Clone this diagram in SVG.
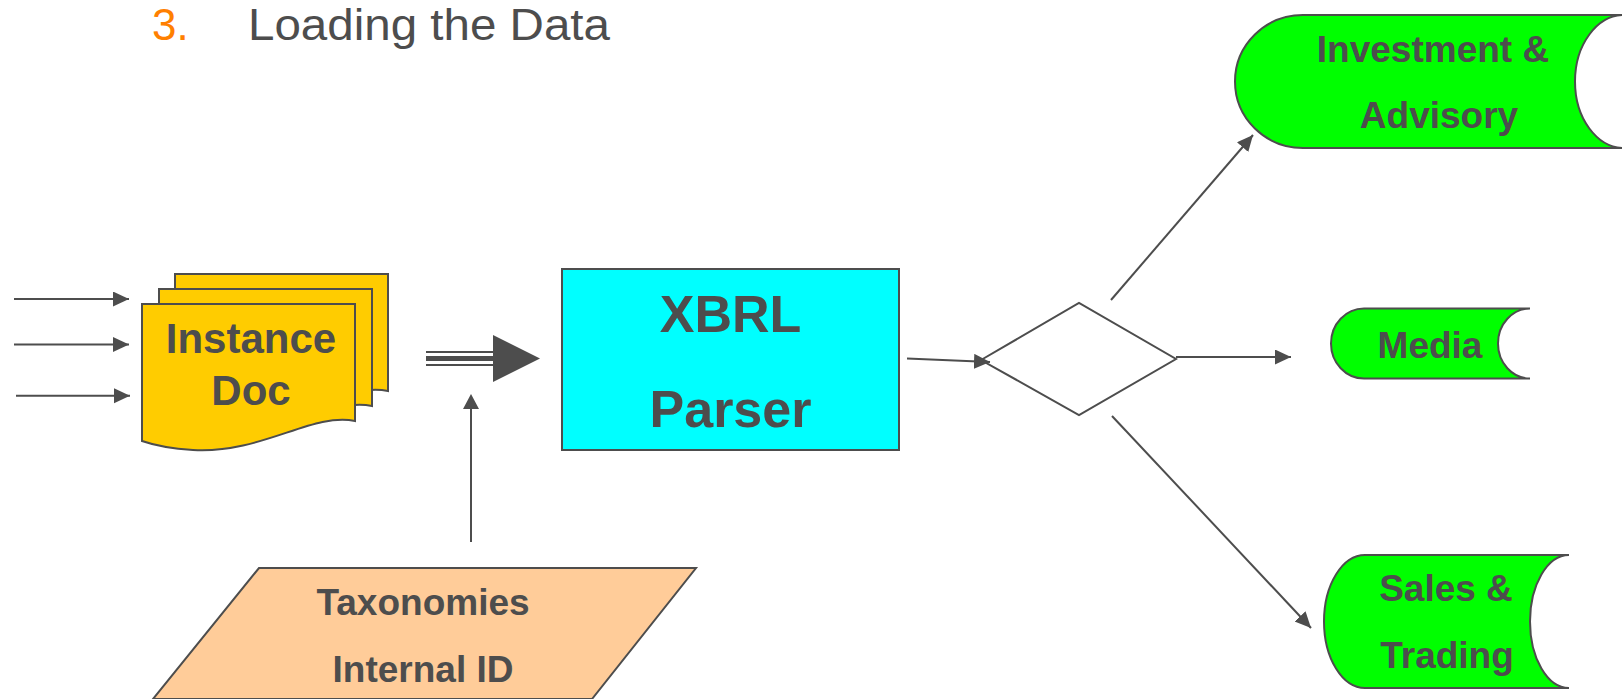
<svg xmlns="http://www.w3.org/2000/svg" width="1622" height="699" viewBox="0 0 1622 699">
<style>
.lbl{font-family:"Liberation Sans",Arial,sans-serif;font-weight:bold;fill:#4d4d4d;text-anchor:middle}
.shp{stroke:#4d4d4d;stroke-width:2}
.con{stroke:#4d4d4d;stroke-width:2;fill:none}
.ttl{font-family:"Liberation Sans",Arial,sans-serif;font-size:44px}
</style>
<defs>
<marker id="ah" markerUnits="userSpaceOnUse" markerWidth="18" markerHeight="16" refX="16" refY="7.5" orient="auto">
<path d="M0,0 L16,7.5 L0,15 z" fill="#4d4d4d"/>
</marker>
<path id="docshape" d="M0,0 H213 V117 C170,108 120,150 51,146 Q20,144 0,137 Z"/>
</defs>
<rect width="1622" height="699" fill="#ffffff"/>

<g id="title">
<text class="ttl" x="152" y="40" fill="#ff8000">3.</text>
<text class="ttl" x="248" y="40" fill="#4d4d4d" textLength="362" lengthAdjust="spacingAndGlyphs">Loading the Data</text>
</g>

<g id="instance-doc">
<use href="#docshape" transform="translate(175,274)" fill="#ffcc00" class="shp"/>
<use href="#docshape" transform="translate(159,289)" fill="#ffcc00" class="shp"/>
<use href="#docshape" transform="translate(142,304)" fill="#ffcc00" class="shp"/>
<text class="lbl" x="251" y="353" font-size="42">Instance</text>
<text class="lbl" x="251" y="405" font-size="42">Doc</text>
</g>

<g id="xbrl-parser">
<rect x="562" y="269" width="337" height="181" fill="#00ffff" class="shp"/>
<text class="lbl" x="730.5" y="332" font-size="52">XBRL</text>
<text class="lbl" x="730.5" y="427" font-size="52">Parser</text>
</g>

<g id="taxonomies">
<polygon points="259,568 696,568 592,699 153,699" fill="#ffcc99" class="shp"/>
<text class="lbl" x="423" y="615" font-size="37">Taxonomies</text>
<text class="lbl" x="423" y="682" font-size="37">Internal ID</text>
</g>

<g id="decision">
<polygon points="981,360 1079,303 1176,359 1079,415" fill="#ffffff" class="shp"/>
</g>

<g id="investment-advisory">
<path d="M1303,15 A68,66.5 0 0 0 1303,148 L1624,148 A49,66.5 0 0 1 1624,15 Z" fill="#00ff00" class="shp"/>
<text class="lbl" x="1433" y="62" font-size="37">Investment &amp;</text>
<text class="lbl" x="1439" y="128" font-size="37">Advisory</text>
</g>

<g id="media">
<path d="M1364,308.5 A33,35 0 0 0 1364,378.5 L1530,378.5 A32,35 0 0 1 1530,308.5 Z" fill="#00ff00" class="shp"/>
<text class="lbl" x="1430" y="358" font-size="37">Media</text>
</g>

<g id="sales-trading">
<path d="M1365,555 A41,66.5 0 0 0 1365,688 L1569,688 A39,66.5 0 0 1 1569,555 Z" fill="#00ff00" class="shp"/>
<text class="lbl" x="1446" y="601" font-size="37">Sales &amp;</text>
<text class="lbl" x="1447" y="668" font-size="37">Trading</text>
</g>

<g id="connectors">
<line x1="14" y1="299" x2="129" y2="299" class="con" marker-end="url(#ah)"/>
<line x1="14" y1="344.5" x2="129" y2="344.5" class="con" marker-end="url(#ah)"/>
<line x1="16" y1="395.7" x2="130" y2="395.7" class="con" marker-end="url(#ah)"/>
<g id="double-arrow">
<line x1="426" y1="352" x2="494" y2="352" stroke="#4d4d4d" stroke-width="2"/>
<line x1="426" y1="358.5" x2="494" y2="358.5" stroke="#4d4d4d" stroke-width="5"/>
<line x1="426" y1="365" x2="494" y2="365" stroke="#4d4d4d" stroke-width="2"/>
<polygon points="493,335 540,358.5 493,382" fill="#4d4d4d"/>
</g>
<line x1="471" y1="542" x2="471" y2="408" class="con"/>
<polygon points="463,409 471,394 479,409" fill="#4d4d4d"/>
<line x1="907" y1="358.5" x2="990" y2="362" class="con" marker-end="url(#ah)"/>
<line x1="1176" y1="357" x2="1291" y2="357" class="con" marker-end="url(#ah)"/>
<line x1="1111" y1="300" x2="1253" y2="135" class="con" marker-end="url(#ah)"/>
<line x1="1112" y1="416" x2="1311" y2="628" class="con" marker-end="url(#ah)"/>
</g>
</svg>
